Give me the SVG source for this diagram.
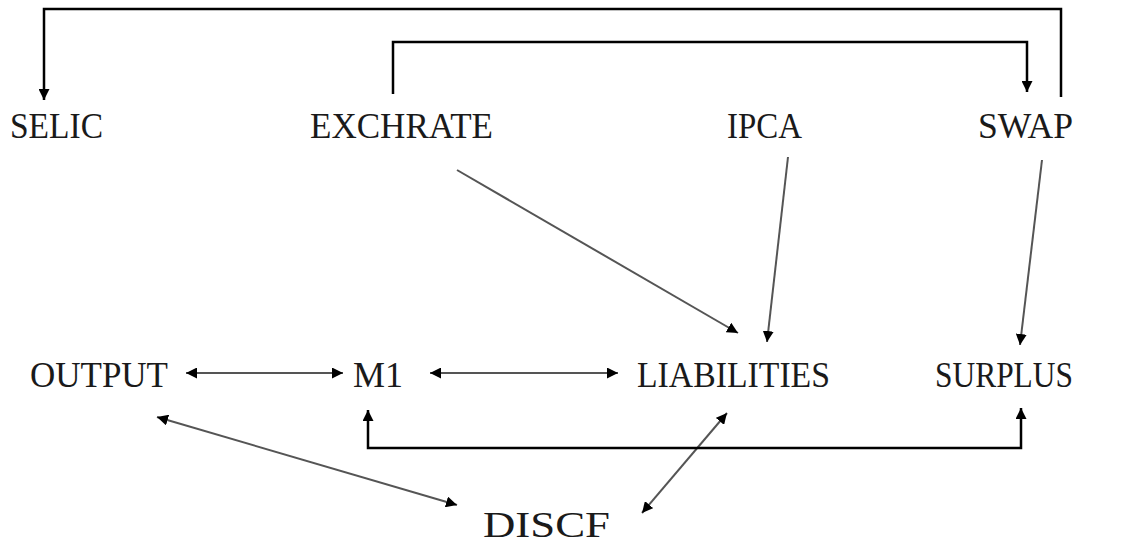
<svg xmlns="http://www.w3.org/2000/svg" width="1137" height="545" viewBox="0 0 1137 545">
<style>
.lbl{font-family:"Liberation Serif","Times New Roman",serif;font-size:35px;fill:#1a1a1a}
.elbow{fill:none;stroke:#000;stroke-width:2.5}
.thin{fill:none;stroke:#555;stroke-width:2}
</style>
<defs>
<marker id="ah" viewBox="0 0 10 10" refX="10" refY="5" markerWidth="11" markerHeight="11" markerUnits="userSpaceOnUse" orient="auto-start-reverse">
<path d="M0,0 L10,5 L0,10 Z" fill="#000"/>
</marker>
</defs>
<rect width="1137" height="545" fill="#fff"/>
<g id="connectors">
<path class="elbow" d="M1061,97 V9 H44 V100" marker-end="url(#ah)"/>
<path class="elbow" d="M393,94 V42 H1027 V92" marker-end="url(#ah)"/>
<line class="thin" x1="457" y1="170" x2="738" y2="333" marker-end="url(#ah)"/>
<line class="thin" x1="788" y1="157" x2="767" y2="342" marker-end="url(#ah)"/>
<line class="thin" x1="1042" y1="160" x2="1020" y2="345" marker-end="url(#ah)"/>
<line class="thin" x1="186" y1="373" x2="343" y2="373" marker-start="url(#ah)" marker-end="url(#ah)"/>
<line class="thin" x1="430" y1="373" x2="618" y2="373" marker-start="url(#ah)" marker-end="url(#ah)"/>
<line class="thin" x1="157" y1="417" x2="457" y2="505" marker-start="url(#ah)" marker-end="url(#ah)"/>
<line class="thin" x1="727" y1="413" x2="642" y2="513" marker-start="url(#ah)" marker-end="url(#ah)"/>
<path class="elbow" d="M368,410 V448 H1021 V408" marker-start="url(#ah)" marker-end="url(#ah)"/>
</g>
<g id="SELIC"><text class="lbl" x="10" y="138" textLength="93" lengthAdjust="spacingAndGlyphs">SELIC</text></g>
<g id="EXCHRATE"><text class="lbl" x="310" y="138" textLength="183" lengthAdjust="spacingAndGlyphs">EXCHRATE</text></g>
<g id="IPCA"><text class="lbl" x="727" y="138" textLength="75" lengthAdjust="spacingAndGlyphs">IPCA</text></g>
<g id="SWAP"><text class="lbl" x="978" y="138" textLength="95" lengthAdjust="spacingAndGlyphs">SWAP</text></g>
<g id="OUTPUT"><text class="lbl" x="30" y="387" textLength="138" lengthAdjust="spacingAndGlyphs">OUTPUT</text></g>
<g id="M1"><text class="lbl" x="353" y="387" textLength="50" lengthAdjust="spacingAndGlyphs">M1</text></g>
<g id="LIABILITIES"><text class="lbl" x="637" y="387" textLength="193" lengthAdjust="spacingAndGlyphs">LIABILITIES</text></g>
<g id="SURPLUS"><text class="lbl" x="935" y="387" textLength="138" lengthAdjust="spacingAndGlyphs">SURPLUS</text></g>
<g id="DISCF"><text class="lbl" x="483" y="537" textLength="127" lengthAdjust="spacingAndGlyphs">DISCF</text></g>
</svg>
